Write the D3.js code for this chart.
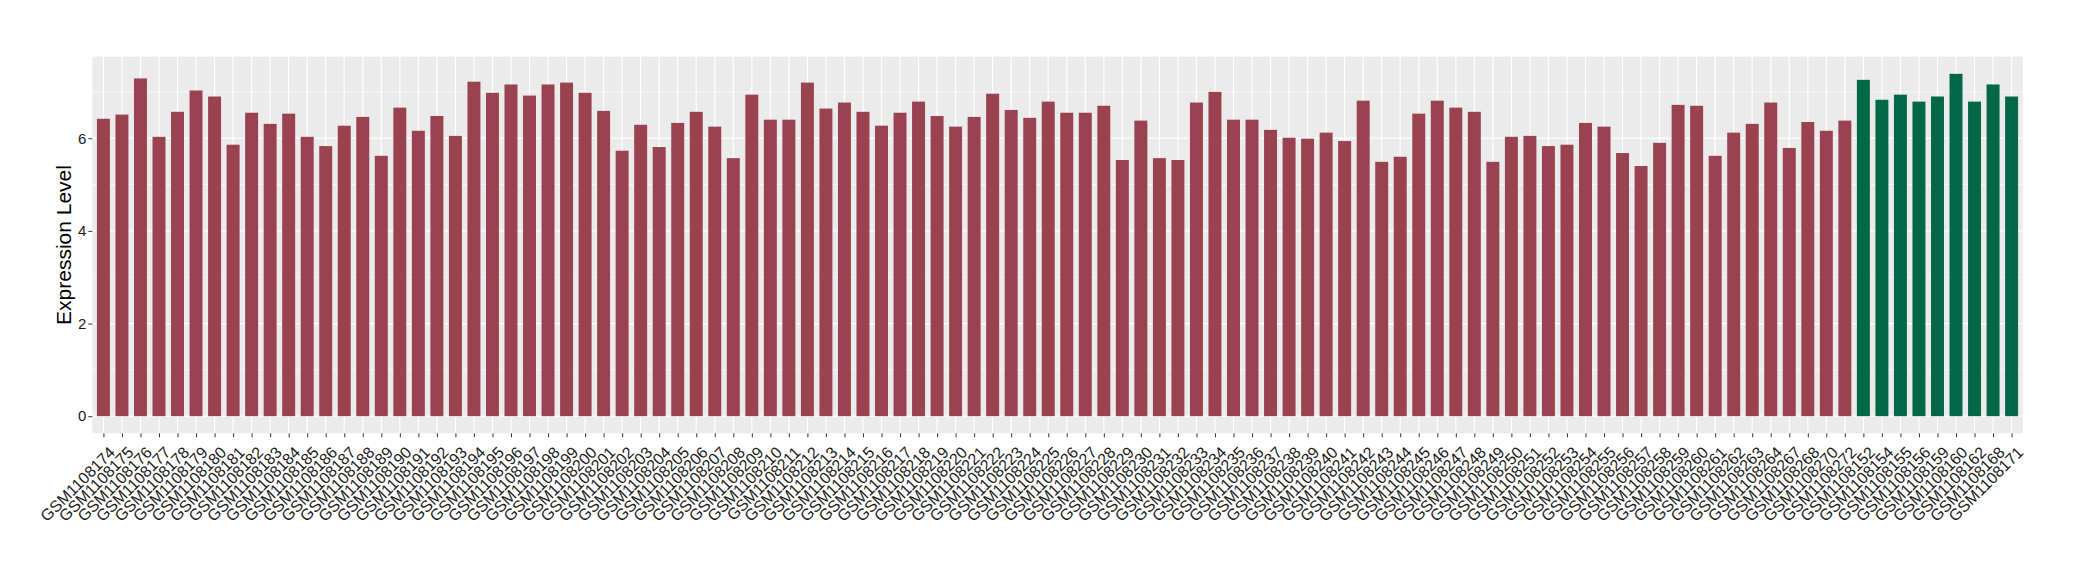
<!DOCTYPE html>
<html>
<head>
<meta charset="utf-8">
<script src="https://cdn.jsdelivr.net/npm/d3@7"></script>
<style>
  body { margin: 0; background: #fff; }
  svg { display: block; font-family: "Liberation Sans", Arial, sans-serif; }
</style>
</head>
<body>
<div class="chart"></div>
<script>
// samples of the first group (maroon)
const samplesA = [
  'GSM1108174','GSM1108175','GSM1108176','GSM1108177','GSM1108178','GSM1108179','GSM1108180','GSM1108181','GSM1108182','GSM1108183',
  'GSM1108184','GSM1108185','GSM1108186','GSM1108187','GSM1108188','GSM1108189','GSM1108190','GSM1108191','GSM1108192','GSM1108193',
  'GSM1108194','GSM1108195','GSM1108196','GSM1108197','GSM1108198','GSM1108199','GSM1108200','GSM1108201','GSM1108202','GSM1108203',
  'GSM1108204','GSM1108205','GSM1108206','GSM1108207','GSM1108208','GSM1108209','GSM1108210','GSM1108211','GSM1108212','GSM1108213',
  'GSM1108214','GSM1108215','GSM1108216','GSM1108217','GSM1108218','GSM1108219','GSM1108220','GSM1108221','GSM1108222','GSM1108223',
  'GSM1108224','GSM1108225','GSM1108226','GSM1108227','GSM1108228','GSM1108229','GSM1108230','GSM1108231','GSM1108232','GSM1108233',
  'GSM1108234','GSM1108235','GSM1108236','GSM1108237','GSM1108238','GSM1108239','GSM1108240','GSM1108241','GSM1108242','GSM1108243',
  'GSM1108244','GSM1108245','GSM1108246','GSM1108247','GSM1108248','GSM1108249','GSM1108250','GSM1108251','GSM1108252','GSM1108253',
  'GSM1108254','GSM1108255','GSM1108256','GSM1108257','GSM1108258','GSM1108259','GSM1108260','GSM1108261','GSM1108262','GSM1108263',
  'GSM1108264','GSM1108267','GSM1108268','GSM1108270','GSM1108272'
];
const valuesA = [
  6.42, 6.51, 7.29, 6.03, 6.57, 7.03, 6.90, 5.86, 6.55, 6.31,
  6.53, 6.03, 5.83, 6.27, 6.46, 5.62, 6.66, 6.16, 6.48, 6.05,
  7.22, 6.98, 7.16, 6.92, 7.16, 7.20, 6.98, 6.59, 5.73, 6.29,
  5.81, 6.33, 6.57, 6.25, 5.57, 6.94, 6.40, 6.40, 7.20, 6.64,
  6.77, 6.57, 6.27, 6.55, 6.79, 6.48, 6.25, 6.46, 6.96, 6.61,
  6.44, 6.79, 6.55, 6.55, 6.70, 5.53, 6.38, 5.57, 5.53, 6.77,
  7.00, 6.40, 6.40, 6.18, 6.01, 5.99, 6.12, 5.94, 6.81, 5.49,
  5.60, 6.53, 6.81, 6.66, 6.57, 5.49, 6.03, 6.05, 5.83, 5.86,
  6.33, 6.25, 5.68, 5.40, 5.90, 6.72, 6.70, 5.62, 6.12, 6.31,
  6.77, 5.79, 6.35, 6.16, 6.38
];

// samples of the second group (green)
const samplesB = ['GSM1108152','GSM1108154','GSM1108155','GSM1108156','GSM1108159','GSM1108160','GSM1108162','GSM1108168','GSM1108171'];
const valuesB = [7.26, 6.83, 6.94, 6.79, 6.90, 7.39, 6.79, 7.16, 6.90];

const yTicks = [0, 2, 4, 6];
const yMinor = [1, 3, 5, 7];

const data = samplesA.map((s, i) => ({sample: s, value: valuesA[i], group: 'A'}))
  .concat(samplesB.map((s, i) => ({sample: s, value: valuesB[i], group: 'B'})));

const W = 2080, H = 580;
const margin = {top: 56.7, right: 2080 - 2022.7, bottom: 580 - 433.3, left: 92.3};
const width = W - margin.left - margin.right;
const height = H - margin.top - margin.bottom;

const svg = d3.select('.chart').append('svg')
  .attr('width', W)
  .attr('height', H);

const maxV = d3.max(data, d => d.value);
const pad = maxV * 0.05;

const xScale = d3.scalePoint()
  .domain(data.map(d => d.sample))
  .range([0, width])
  .padding(0.6);

const yScale = d3.scaleLinear()
  .domain([-pad, maxV + pad])
  .range([height, 0]);

const colorScale = d3.scaleOrdinal()
  .domain(['A', 'B'])
  .range(['#9A4250', '#026847']);

const g = svg.append('g')
  .attr('transform', `translate(${margin.left},${margin.top})`);

// panel
g.append('rect')
  .attr('width', width)
  .attr('height', height)
  .attr('fill', '#EBEBEB');

// minor horizontal grid
g.selectAll('.minor')
  .data(yMinor.filter(v => yScale(v) > 0))
  .enter()
  .append('line')
  .attr('x1', 0).attr('x2', width)
  .attr('y1', d => yScale(d)).attr('y2', d => yScale(d))
  .attr('stroke', '#fff')
  .attr('stroke-width', 0.6);

// major horizontal grid
g.selectAll('.major')
  .data(yTicks)
  .enter()
  .append('line')
  .attr('x1', 0).attr('x2', width)
  .attr('y1', d => yScale(d)).attr('y2', d => yScale(d))
  .attr('stroke', '#fff')
  .attr('stroke-width', 1.2);

// vertical grid
g.selectAll('.vgrid')
  .data(data)
  .enter()
  .append('line')
  .attr('x1', d => xScale(d.sample)).attr('x2', d => xScale(d.sample))
  .attr('y1', 0).attr('y2', height)
  .attr('stroke', '#fff')
  .attr('stroke-width', 1.2);

const barW = xScale.step() * 0.7;

g.selectAll('.bar')
  .data(data)
  .enter()
  .append('rect')
  .attr('x', d => xScale(d.sample) - barW / 2)
  .attr('width', barW)
  .attr('y', d => yScale(d.value))
  .attr('height', d => yScale(0) - yScale(d.value))
  .attr('fill', d => colorScale(d.group));

// y axis
const yAxis = d3.axisLeft(yScale)
  .tickValues(yTicks)
  .tickSize(4)
  .tickPadding(2);

const yg = g.append('g').call(yAxis);
yg.select('.domain').remove();
yg.selectAll('line').attr('stroke', '#333').attr('stroke-width', 1);
yg.selectAll('text').attr('fill', '#1a1a1a').style('font-size', '15px')
  .style('font-family', '"Liberation Sans", Arial, sans-serif');

// x axis
const xAxis = d3.axisBottom(xScale)
  .tickSize(4)
  .tickPadding(2);

const xg = g.append('g')
  .attr('transform', `translate(0,${height})`)
  .call(xAxis);
xg.select('.domain').remove();
xg.selectAll('line').attr('stroke', '#333').attr('stroke-width', 1);
xg.selectAll('text')
  .attr('fill', '#1a1a1a')
  .style('font-size', '16px')
  .style('font-family', '"Liberation Sans", Arial, sans-serif')
  .attr('text-anchor', 'end')
  .attr('dy', '0.72em')
  .attr('y', 0)
  .attr('transform', 'translate(4,12) rotate(-45)');

// y title
svg.append('text')
  .attr('transform', `translate(71,${margin.top + height / 2}) rotate(-90)`)
  .attr('text-anchor', 'middle')
  .style('font-size', '21px')
  .attr('fill', '#000')
  .text('Expression Level');
</script>
</body>
</html>
